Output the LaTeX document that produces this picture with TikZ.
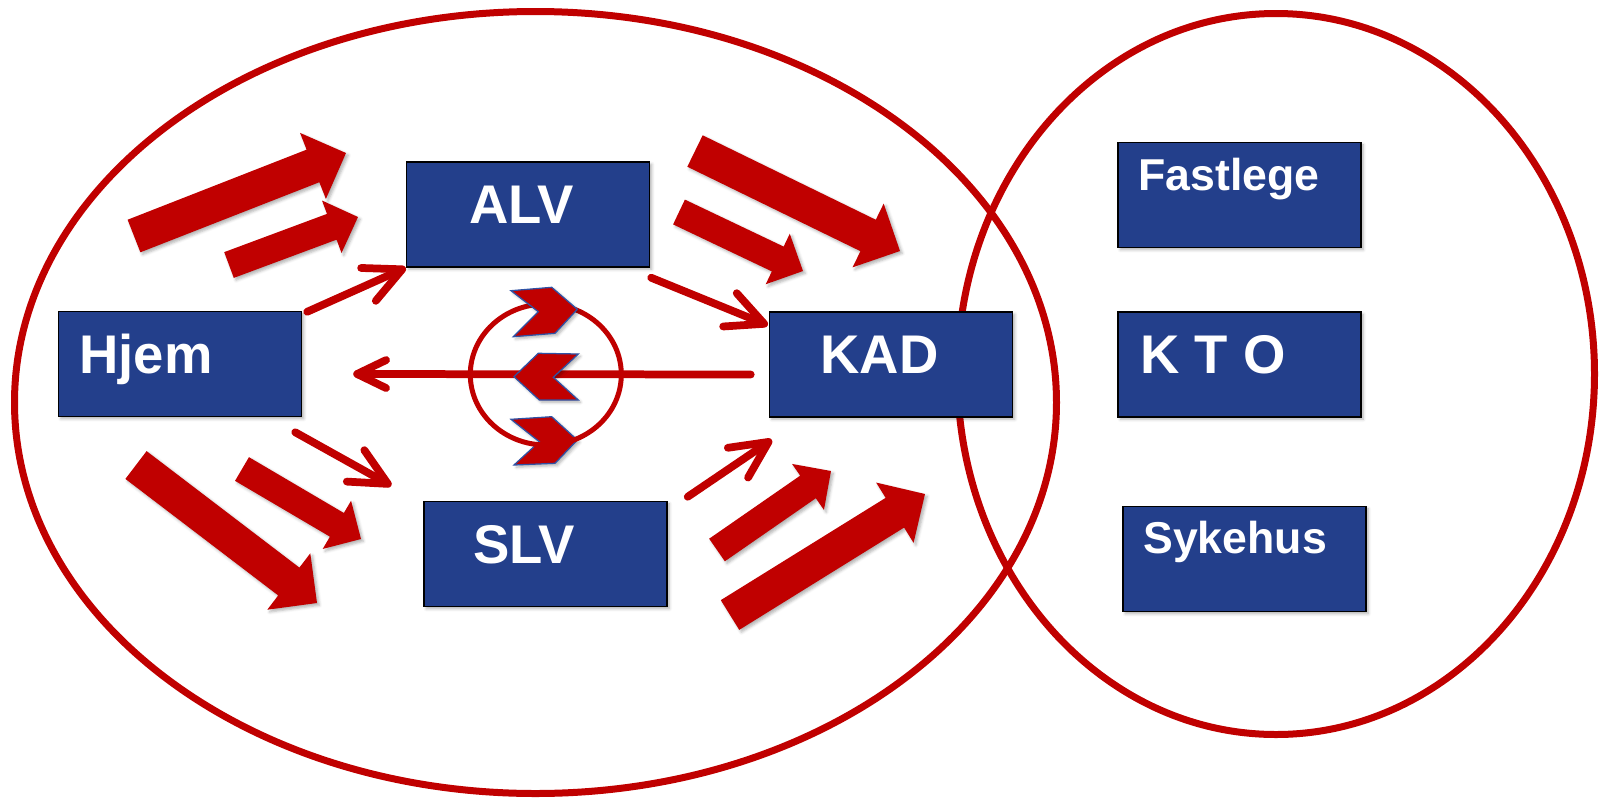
\documentclass[tikz,border=0pt]{standalone}
\usepackage{fontspec}
\setmainfont{Liberation Sans}
\usetikzlibrary{arrows.meta,calc,shadows.blur}

\definecolor{dkred}{RGB}{192,0,0}
\definecolor{boxblue}{RGB}{35,63,139}
\definecolor{chevblue}{RGB}{47,82,165}

\tikzset{
  ring/.style={draw=dkred, line width=0.14cm},
  innerring/.style={draw=dkred, line width=0.1cm},
  softshadow/.style={blur shadow={shadow xshift=1.3pt, shadow yshift=-1.3pt,
      shadow blur radius=1.6pt, shadow opacity=30}},
  box/.style={draw=black, line width=0.03cm, fill=boxblue,
    minimum width=4.86cm, minimum height=2.1cm, inner sep=0pt, softshadow},
  boxtext/.style={anchor=base west, inner sep=0pt, text=white,
    font=\bfseries\fontsize{31}{31}\selectfont},
  smalltext/.style={boxtext, font=\bfseries\fontsize{25.4}{26}\selectfont},
  thinarrow/.style={draw=dkred, line width=0.155cm, line cap=round,
    -{Straight Barb[length=0.74cm, width=0.72cm, round]}},
  shortbarb/.style={-{Straight Barb[length=0.58cm, width=0.56cm, round]}},
  blockfill/.style={fill=dkred, softshadow},
  chevron/.style={fill=dkred, draw=chevblue, line width=0.025cm, line join=miter, softshadow}
}

% block arrow: tail, tip, shaft width (px), head width (px); head length = half head width
\newcommand\blockarrow[4]{%
  \coordinate (ba-t) at #1;
  \coordinate (ba-h) at #2;
  \coordinate (ba-c) at ($(ba-h)!#4*0.01cm!(ba-t)$);
  \fill[blockfill]
    ($(ba-t)!#3*0.01cm!90:(ba-h)$) -- ($(ba-c)!#3*0.01cm!90:(ba-h)$)
    -- ($(ba-c)!#4*0.01cm!90:(ba-h)$) -- (ba-h)
    -- ($(ba-c)!#4*0.01cm!-90:(ba-h)$) -- ($(ba-c)!#3*0.01cm!-90:(ba-h)$)
    -- ($(ba-t)!#3*0.01cm!-90:(ba-h)$) -- cycle;
}

\begin{document}
\begin{tikzpicture}[x=0.02cm, y=-0.02cm]
\useasboundingbox (0,0) rectangle (1600,802);

% the two overlapping regions
\draw[ring] (535.5,402.5) ellipse [x radius=521, y radius=391];
\draw[ring] (1276,374) ellipse [x radius=318.5, y radius=360.5];

% boxes
\node[box] (hjem) at (180,364) {};
\node[box] (alv) at (528,214.5) {};
\node[box] (kad) at (891,364.5) {};
\node[box] (slv) at (545.5,554) {};
\node[box] (fastlege) at (1239.5,195) {};
\node[box] (kto) at (1239.5,364.5) {};
\node[box] (sykehus) at (1244.5,559) {};

% box labels
\node[boxtext] (hjemT) at (79,373) {Hjem};
\node[boxtext] (alvT) at (469,223) {ALV};
\node[boxtext] (kadT) at (820,373) {KAD};
\node[boxtext] (slvT) at (473,563) {SLV};
\node[smalltext] (fastlegeT) at (1138,190) {Fastlege};
\node[boxtext] (ktoT) at (1140,373) {K T O};
\node[smalltext] (sykehusT) at (1143,553) {Sykehus};

% return flow from KAD back home
\draw[thinarrow, shortbarb] ($(kad.west)+(-18,10)$) -- ($(hjem.east)+(51,10)$);

% rotating exchange in the middle
\draw[chevron] (511,419.3) -- (551.7,416.7) -- (577.3,440) -- (555,463.3)
  -- (514,465) -- (539.3,441.7) -- cycle;
\draw[innerring] (545.8,374.5) ellipse [x radius=75.5, y radius=70.5];
\draw[chevron] (511,290.7) -- (551.7,287.3) -- (577.3,309.3) -- (555,333.3)
  -- (513.3,336.7) -- (538.3,311.7) -- cycle;
\draw[chevron] (578.3,354) -- (538.3,353.3) -- (514,376.7) -- (539.3,400)
  -- (578.3,400) -- (553.3,377.3) -- cycle;

% broad flows
\blockarrow{(134,236)}{(346,153)}{35}{71}
\blockarrow{(229,265)}{(358,217)}{27.5}{56}
\blockarrow{(695,151)}{(900,251)}{35}{71}
\blockarrow{(679,212)}{(803,271)}{27.5}{56}
\blockarrow{(136,465)}{(317,603)}{35}{71}
\blockarrow{(242,469)}{(361,539)}{27.5}{56}
\blockarrow{(717,550)}{(831,471)}{27.5}{56}
\blockarrow{(730,615)}{(925,494)}{35}{71}

% single transfers between units
\draw[thinarrow] ($(hjem.north east)+(5,1)$) -- (alv.south west);
\draw[thinarrow] ($(alv.south east)+(1,10)$) -- ($(kad.north west)+(-1,14)$);
\draw[thinarrow] ($(hjem.south east)+(-7,15)$) -- ($(slv.north west)+(-32,-15)$);
\draw[thinarrow] ($(slv.north east)+(20,-4)$) -- ($(kad.south west)+(3,22)$);
\end{tikzpicture}
\end{document}
